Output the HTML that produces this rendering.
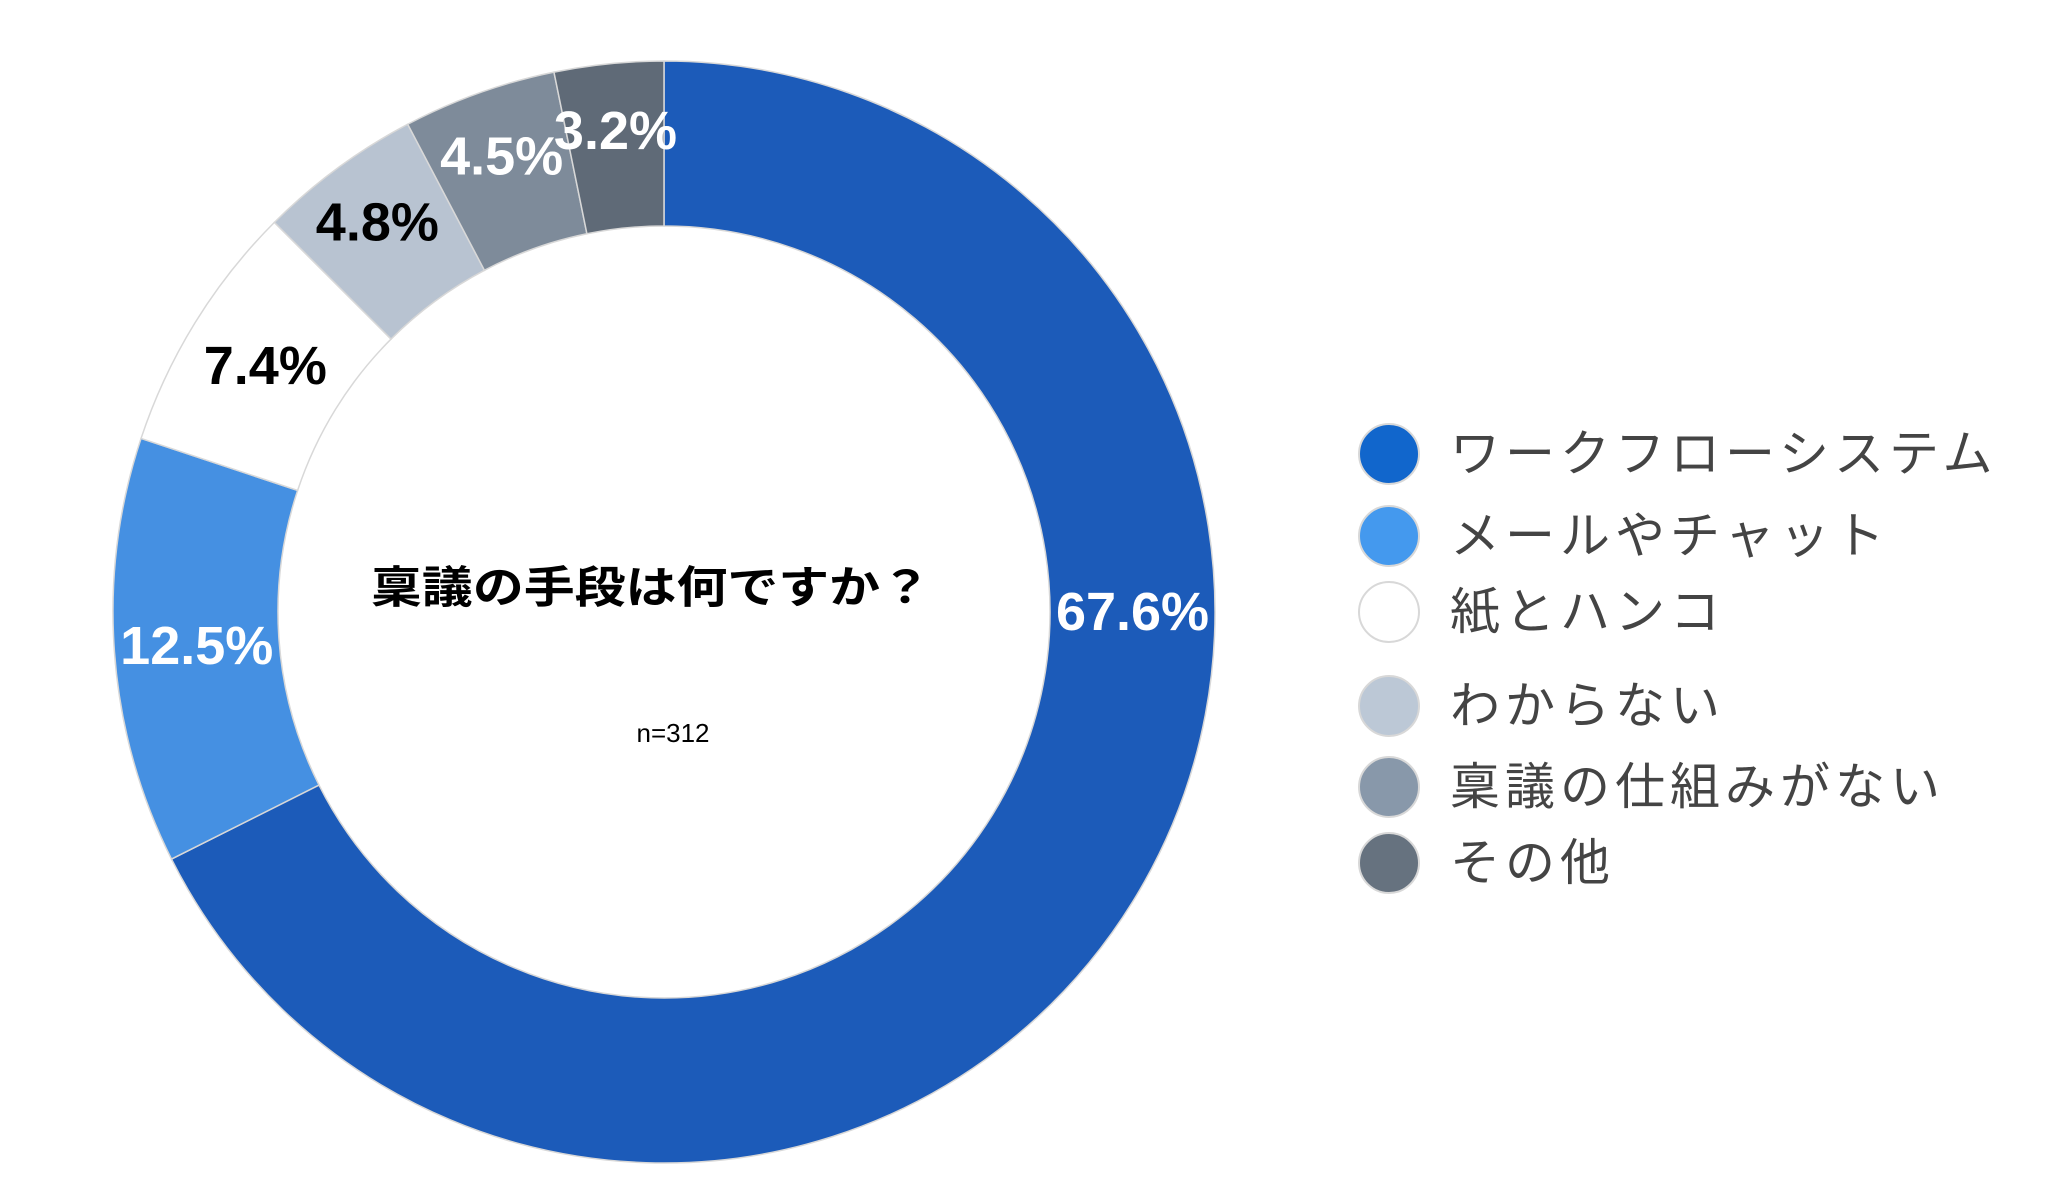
<!DOCTYPE html>
<html><head><meta charset="utf-8"><style>
html,body{margin:0;padding:0;background:#fff;}
svg{display:block;}
</style></head><body>
<svg id="chart" width="2048" height="1198" viewBox="0 0 2048 1198" xmlns="http://www.w3.org/2000/svg" font-family="'Liberation Sans','Noto Sans CJK JP',sans-serif">
<rect width="2048" height="1198" fill="#fff"/>
<g id="slices"></g>
<g id="labels"></g>
<text x="651" y="588" text-anchor="middle" dominant-baseline="central" font-size="44" font-weight="bold" fill="#000" textLength="560" lengthAdjust="spacingAndGlyphs">稟議の手段は何ですか？</text>
<text x="673" y="733" text-anchor="middle" dominant-baseline="central" font-size="26" fill="#000">n=312</text>
<g id="legend"></g>
</svg>
<script>
const categories = ["ワークフローシステム","メールやチャット","紙とハンコ","わからない","稟議の仕組みがない","その他"];
const values = [67.6, 12.5, 7.4, 4.8, 4.5, 3.2];
const valueLabels = ["67.6%","12.5%","7.4%","4.8%","4.5%","3.2%"];
const sliceColors = ["#1c5bb9","#4590e2","#ffffff","#b8c3d1","#7e8b9a","#5f6a77"];
const legendColors = ["#1166cc","#4499ee","#ffffff","#bcc8d6","#8898aa","#66727f"];
const labelColors = ["#fff","#fff","#000","#000","#fff","#fff"];

const NS = "http://www.w3.org/2000/svg";
const cx = 664, cy = 612, R = 551, r0 = 386;
const total = values.reduce((a,b)=>a+b,0);
function pt(rad, frac){ const a = frac*2*Math.PI; return [cx + rad*Math.sin(a), cy - rad*Math.cos(a)]; }
const gS = document.getElementById('slices');
const gL = document.getElementById('labels');
let cum = 0;
values.forEach((v,i)=>{
  const f0 = cum/total, f1 = (cum+v)/total; cum += v;
  const large = (f1-f0) > 0.5 ? 1 : 0;
  const [x0,y0] = pt(R,f0), [x1,y1] = pt(R,f1), [x2,y2] = pt(r0,f1), [x3,y3] = pt(r0,f0);
  const p = document.createElementNS(NS,'path');
  p.setAttribute('d',`M${x0},${y0} A${R},${R} 0 ${large} 1 ${x1},${y1} L${x2},${y2} A${r0},${r0} 0 ${large} 0 ${x3},${y3} Z`);
  p.setAttribute('fill',sliceColors[i]);
  p.setAttribute('stroke','#d8d8d8');
  p.setAttribute('stroke-width','1.5');
  
  
  gS.appendChild(p);
  let mid = (f0+f1)/2;
  if (f1-f0 > 0.5) mid = Math.min(mid, 0.25);
  const [lx,ly] = pt((R+r0)/2 + (f1-f0 < 0.05 ? 15 : 0), mid);
  const t = document.createElementNS(NS,'text');
  t.setAttribute('x',lx); t.setAttribute('y',ly);
  t.setAttribute('text-anchor','middle');
  t.setAttribute('dominant-baseline','central');
  t.setAttribute('font-size','54');
  t.setAttribute('font-weight','bold');
  t.setAttribute('fill',labelColors[i]);
  t.textContent = valueLabels[i];
  
  
  gL.appendChild(t);
});
const gLeg = document.getElementById('legend');
const legY = [454, 536, 612, 706, 787, 863];
categories.forEach((c,i)=>{
  const g = document.createElementNS(NS,'g');
  
  
  const ci = document.createElementNS(NS,'ellipse');
  ci.setAttribute('cx',1389); ci.setAttribute('cy',legY[i]);
  ci.setAttribute('rx',30); ci.setAttribute('ry',30);
  ci.setAttribute('fill',legendColors[i]);
  ci.setAttribute('stroke','#d8d8d8'); ci.setAttribute('stroke-width','2');
  
  
  const t = document.createElementNS(NS,'text');
  t.setAttribute('x',1450); t.setAttribute('y',legY[i]);
  t.setAttribute('dominant-baseline','central');
  t.setAttribute('font-size','50');
  t.setAttribute('letter-spacing','5');
  t.setAttribute('fill','#444');
  t.textContent = c;
  
  
  g.appendChild(ci); g.appendChild(t);
  gLeg.appendChild(g);
});
</script>
</body></html>
